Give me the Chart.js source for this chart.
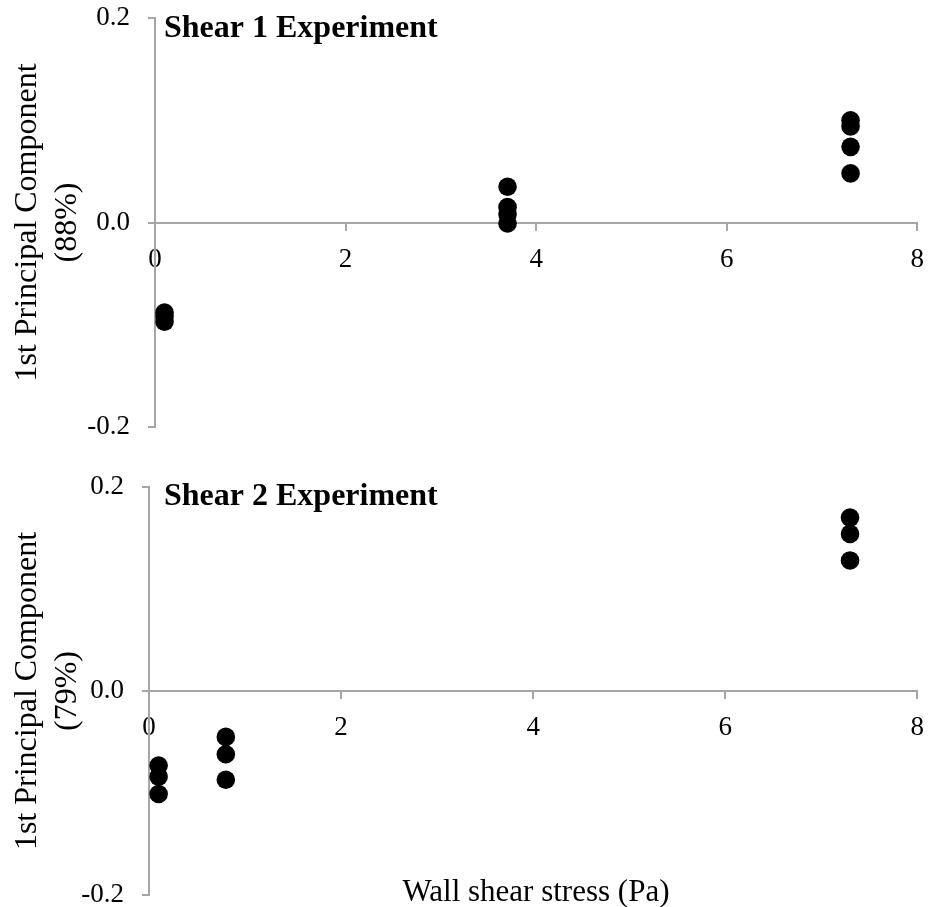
<!DOCTYPE html>
<html>
<head>
<meta charset="utf-8">
<style>
    body { margin: 0; background: #fff; }
    #page { position: relative; width: 938px; height: 907px; }
    #page canvas { position: absolute; left: 0; }
</style>
<script src="https://cdn.jsdelivr.net/npm/chart.js@4/dist/chart.umd.min.js"></script>
</head>
<body>
<div id="page">
    <canvas id="shear1" width="938" height="455" style="top:0"></canvas>
    <canvas id="shear2" width="938" height="452" style="top:455px"></canvas>
</div>
<script>
    // values: wall shear stress (Pa) vs 1st principal component
    const shear1Stress = [0.1, 0.1, 0.1, 3.7, 3.7, 3.7, 3.7, 7.3, 7.3, 7.3, 7.3];
    const shear1PC = [-0.088, -0.092, -0.097, 0.035, 0.015, 0.008, -0.001, 0.100, 0.094, 0.074, 0.048];
    const shear2Stress = [0.1, 0.1, 0.1, 0.8, 0.8, 0.8, 7.3, 7.3, 7.3];
    const shear2PC = [-0.073, -0.084, -0.101, -0.045, -0.062, -0.087, 0.170, 0.154, 0.128];
    const xTicks = [0, 2, 4, 6, 8];
    const yTicks = [-0.2, 0, 0.2];

    const AXIS_GREY = '#a6a6a6';
    Chart.defaults.font.family = '"Liberation Serif", "Times New Roman", serif';
    Chart.defaults.color = '#000';

    // free text drawn on the canvas (panel title, shared x axis title)
    const panelText = {
        id: 'panelText',
        afterDraw(chart, args, opts) {
            const ctx = chart.ctx;
            ctx.save();
            ctx.fillStyle = '#000';
            ctx.textBaseline = 'alphabetic';
            (opts.items || []).forEach(it => {
                ctx.font = it.font;
                ctx.textAlign = it.align || 'left';
                ctx.fillText(it.text, it.x, it.y);
            });
            ctx.restore();
        }
    };

    function makeChart(id, xs, ys, yTitle, axisWidth, padding, texts) {
        const points = xs.map((x, i) => ({x: x, y: ys[i]}));
        return new Chart(document.getElementById(id), {
            type: 'scatter',
            data: {
                datasets: [{
                    data: points,
                    backgroundColor: '#000',
                    borderWidth: 0,
                    pointRadius: 9.3,
                    pointHoverRadius: 9.3
                }]
            },
            options: {
                responsive: false,
                animation: false,
                devicePixelRatio: 1,
                layout: {padding: padding},
                plugins: {
                    legend: {display: false},
                    tooltip: {enabled: false},
                    panelText: {items: texts}
                },
                scales: {
                    x: {
                        type: 'linear',
                        position: {y: 0},
                        min: 0,
                        max: 8,
                        afterBuildTicks: s => { s.ticks = xTicks.map(v => ({value: v})); },
                        ticks: {font: {size: 27}, padding: 14, maxRotation: 0, autoSkip: false,
                            callback: v => String(v)},
                        grid: {drawOnChartArea: false, drawTicks: true, tickLength: 7, color: AXIS_GREY, lineWidth: 2},
                        border: {color: AXIS_GREY, width: 2}
                    },
                    y: {
                        type: 'linear',
                        position: 'left',
                        min: -0.2,
                        max: 0.2,
                        afterBuildTicks: s => { s.ticks = yTicks.map(v => ({value: v})); },
                        afterFit: s => {
                            s.width = axisWidth;
                            s.paddingTop = 0;
                            s.paddingBottom = 0;
                        },
                        ticks: {font: {size: 27}, padding: 18,
                            callback: v => Math.abs(v) < 1e-9 ? '0.0' : v.toFixed(1)},
                        grid: {drawOnChartArea: false, drawTicks: true, tickLength: 7, color: AXIS_GREY, lineWidth: 2},
                        border: {color: AXIS_GREY, width: 2},
                        title: {
                            display: true,
                            text: yTitle,
                            font: {size: 32, lineHeight: 1.25},
                            padding: {top: 8, bottom: 0}
                        }
                    }
                }
            },
            plugins: [panelText]
        });
    }

    makeChart('shear1', shear1Stress, shear1PC, ['1st Principal Component', '(88%)'], 155,
        {top: 18, right: 16, bottom: 28, left: 0},
        [{text: 'Shear 1 Experiment', font: 'bold 32px "Liberation Serif"', x: 164, y: 37}]);

    makeChart('shear2', shear2Stress, shear2PC, ['1st Principal Component', '(79%)'], 149,
        {top: 32, right: 16, bottom: 12, left: 0},
        [{text: 'Shear 2 Experiment', font: 'bold 32px "Liberation Serif"', x: 164, y: 50},
         {text: 'Wall shear stress (Pa)', font: '31px "Liberation Serif"', x: 536, y: 446, align: 'center'}]);
</script>
</body>
</html>
